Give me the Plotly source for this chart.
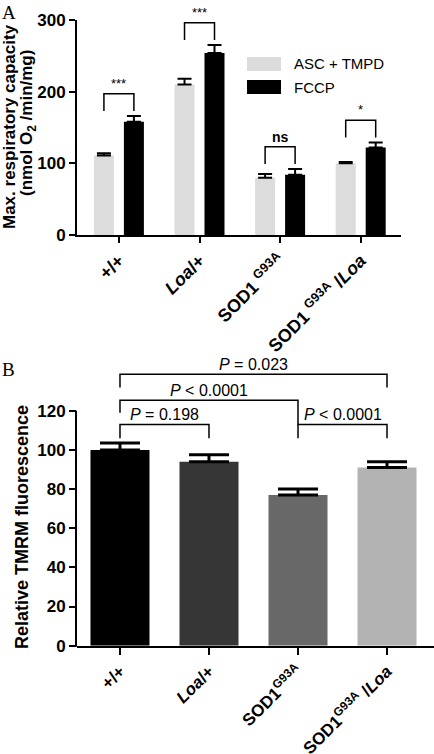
import plotly.graph_objects as go

# ---------------- data ----------------
genotypes_A = ["+/+", "<i>Loa</i>/+", "SOD1 <sup>G93A</sup>", "SOD1 <sup>G93A</sup> /<i>Loa</i>"]
genotypes_B = ["+/+", "<i>Loa</i>/+", "SOD1<sup>G93A</sup>", "SOD1<sup>G93A</sup> /<i>Loa</i>"]
series_names = ["ASC + TMPD", "FCCP"]
asc_tmpd = [111, 210, 80, 100]
asc_tmpd_err = [3, 8, 5, 2]
fccp = [158, 254, 84, 122]
fccp_err = [8, 11, 8, 7]
sig_A = ["***", "***", "ns", "*"]

tmrm = [100, 94, 77, 91]
tmrm_err = [3.5, 3.5, 3, 3]
# comparisons in B: (group i, group j, label)
comparisons_B = [(0, 1, "<i>P</i> = 0.198"), (2, 3, "<i>P</i> &lt; 0.0001"),
                 (0, 2, "<i>P</i> &lt; 0.0001"), (0, 3, "<i>P</i> = 0.023")]

# ---------------- style ----------------
W, H = 434, 754
FONT = "Liberation Sans"
colors_B = ["#000000", "#363636", "#686868", "#b3b3b3"]
idx = list(range(4))

def px(v):
    return v / W

def py(v):
    return 1 - v / H

fig = go.Figure()
fig.add_trace(go.Bar(
    x=idx, y=asc_tmpd, name=series_names[0], marker=dict(color="#dcdcdc", line=dict(width=0)),
    error_y=dict(type="data", symmetric=False, array=asc_tmpd_err, arrayminus=[0] * 4,
                 color="black", thickness=2, width=7),
    xaxis="x", yaxis="y"))
fig.add_trace(go.Bar(
    x=idx, y=fccp, name=series_names[1], marker=dict(color="#000000", line=dict(width=0)),
    error_y=dict(type="data", symmetric=False, array=fccp_err, arrayminus=[0] * 4,
                 color="black", thickness=2, width=7),
    xaxis="x", yaxis="y"))
fig.add_trace(go.Bar(
    x=idx, y=tmrm, marker=dict(color=colors_B, line=dict(width=0)), width=0.663,
    error_y=dict(type="data", symmetric=False, array=tmrm_err, arrayminus=[0] * 4,
                 color="black", thickness=3, width=20),
    xaxis="x2", yaxis="y2"))

tickfont = dict(family=FONT, size=17, color="black", weight="bold")
xtickfont = dict(family=FONT, size=18, color="black", weight="bold")
xtickfont2 = dict(family=FONT, size=17, color="black", weight="bold")
common = dict(showgrid=False, zeroline=False, ticks="outside", tickwidth=2, automargin=False,
              tickcolor="black", linecolor="black", linewidth=2)

yB_dom = [py(645.7), py(369.6)]
yB_range = [0, 141]

fig.update_layout(
    width=W, height=H, margin=dict(l=0, r=0, t=0, b=0, autoexpand=False),
    paper_bgcolor="white", plot_bgcolor="white", showlegend=False,
    barmode="group", bargap=0.256, bargroupgap=0.333,
    xaxis=dict(domain=[px(77), px(401)], range=[-0.52, 3.5], tickvals=idx, ticktext=genotypes_A,
               tickangle=-45, ticklen=6, showline=True, anchor="y", tickfont=xtickfont, **common),
    yaxis=dict(domain=[py(235), py(20)], range=[0, 300], tickvals=[0, 100, 200, 300],
               ticklen=6, showline=True, anchor="x", tickfont=tickfont, **common),
    xaxis2=dict(domain=[px(77), 1.0], range=[-0.483, 3.528], tickvals=idx, ticktext=genotypes_B,
                tickangle=-45, ticklen=7, showline=True, anchor="y2", tickfont=xtickfont2, **common),
    yaxis2=dict(domain=yB_dom, range=yB_range, tickvals=[0, 20, 40, 60, 80, 100, 120],
                ticklen=7, showline=False, anchor="x2", tickfont=tickfont, **common),
)

shapes = []
annotations = []

# y axis line of panel B (only up to 120)
y120 = yB_dom[0] + (120 - yB_range[0]) / (yB_range[1] - yB_range[0]) * (yB_dom[1] - yB_dom[0])
shapes.append(dict(type="line", xref="paper", yref="paper", x0=px(76), x1=px(76),
                   y0=yB_dom[0] - 1 / H, y1=y120, line=dict(color="black", width=2)))

# Significance brackets panel A
off = 0.186
for i in idx:
    base = max(asc_tmpd[i] + asc_tmpd_err[i], fccp[i] + fccp_err[i]) + 7
    top = base + 24
    x0, x1 = i - off, i + off
    shapes.append(dict(type="path", xref="x", yref="y",
                       path=f"M {x0},{base} L {x0},{top} L {x1},{top} L {x1},{base}",
                       line=dict(color="black", width=1.5)))
    is_ns = sig_A[i] == "ns"
    annotations.append(dict(xref="x", yref="y", x=i, y=top, text=sig_A[i], showarrow=False,
                            yanchor="bottom", yshift=1 if not is_ns else 0,
                            font=dict(family=FONT, size=14 if is_ns else 13, color="black",
                                      weight="bold" if is_ns else "normal")))

# Brackets panel B (levels: top, left leg bottom, right leg bottom)
levels_B = [(113, 106, 106), (113, 106, 106), (125.4, 119, 113), (138.6, 131.8, 131.8)]
for (i, j, lab), (top, lb, rb) in zip(comparisons_B, levels_B):
    shapes.append(dict(type="path", xref="x2", yref="y2",
                       path=f"M {i},{lb} L {i},{top} L {j},{top} L {j},{rb}",
                       line=dict(color="black", width=1.5)))
    annotations.append(dict(xref="x2", yref="y2", x=(i + j) / 2, y=top, text=lab, showarrow=False,
                            yanchor="bottom", yshift=-1,
                            font=dict(family=FONT, size=16, color="black")))

# Legend (panel A)
for k, (name, col, yc) in enumerate(zip(series_names, ["#dcdcdc", "#000000"], [64, 87])):
    shapes.append(dict(type="rect", xref="paper", yref="paper", x0=px(247), x1=px(281),
                       y0=py(yc + 7), y1=py(yc - 7), fillcolor=col, line=dict(width=0)))
    annotations.append(dict(xref="paper", yref="paper", x=px(292), y=py(yc), text=name,
                            showarrow=False, xanchor="left", yanchor="middle",
                            font=dict(family=FONT, size=15, color="black")))

# Axis titles
annotations.append(dict(xref="paper", yref="paper", x=px(9), y=py(127),
                        text="Max. respiratory capacity", textangle=-90, showarrow=False,
                        xanchor="center", yanchor="middle",
                        font=dict(family=FONT, size=17, color="black", weight="bold")))
annotations.append(dict(xref="paper", yref="paper", x=px(28), y=py(123),
                        text="(nmol O<sub>2</sub> /min/mg)", textangle=-90, showarrow=False,
                        xanchor="center", yanchor="middle",
                        font=dict(family=FONT, size=17, color="black", weight="bold")))
annotations.append(dict(xref="paper", yref="paper", x=px(22), y=py(527),
                        text="Relative TMRM fluorescence", textangle=-90, showarrow=False,
                        xanchor="center", yanchor="middle",
                        font=dict(family=FONT, size=18, color="black", weight="bold")))

# Panel labels
annotations.append(dict(xref="paper", yref="paper", x=0, y=1, text="A", showarrow=False,
                        xanchor="left", yanchor="top",
                        font=dict(family="Liberation Serif", size=19, color="black")))
annotations.append(dict(xref="paper", yref="paper", x=0, y=py(357), text="B", showarrow=False,
                        xanchor="left", yanchor="top",
                        font=dict(family="Liberation Serif", size=19, color="black")))

fig.update_layout(shapes=shapes, annotations=annotations)
fig.write_html("out.html", config={"displayModeBar": False},
               post_script="document.body.style.margin='0px';document.body.style.overflow='hidden';")
